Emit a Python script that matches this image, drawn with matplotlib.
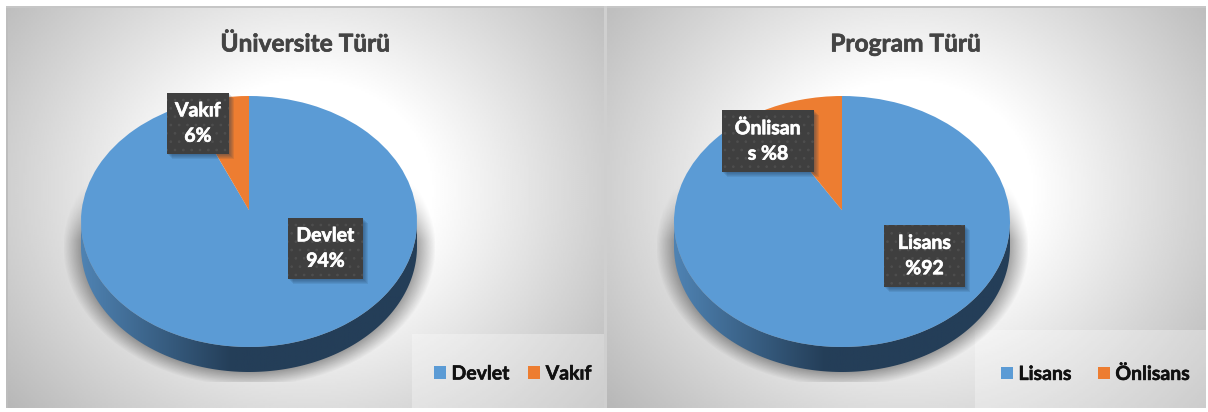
import numpy as np
import matplotlib
matplotlib.use('Agg')
import matplotlib.pyplot as plt
import matplotlib.patheffects as pe
from matplotlib.patches import Rectangle, PathPatch
from matplotlib.path import Path

plt.rcParams['font.family'] = ['Lato', 'DejaVu Sans']
plt.rcParams['hatch.linewidth'] = 0.7

titles = ['Üniversite Türü', 'Program Türü']
categories_1 = ['Devlet', 'Vakıf']
values_1 = [94, 6]
labels_1 = ['Devlet\n94%', 'Vakıf\n6%']
categories_2 = ['Lisans', 'Önlisans']
values_2 = [92, 8]
labels_2 = ['Lisans\n%92', 'Önlisan\ns %8']
colors = ['#5b9bd5', '#ed7d31']

W, H = 1208, 412
fig = plt.figure(figsize=(W / 100, H / 100), dpi=100, facecolor='white')
bg = fig.add_axes([0, 0, 1, 1])
bg.set_xlim(0, W)
bg.set_ylim(H, 0)
bg.axis('off')


def panel_bg(x0, x1, y0, y1):
    # radial grey gradient behind each chart
    cx = (x0 + x1) / 2
    xx, yy = np.meshgrid(np.linspace(x0, x1, 300), np.linspace(y0, y1, 200))
    r = np.hypot((xx - cx) / 298, (yy - 190) / 260)
    g = 1.0 - 0.27 * np.clip(r - 0.42, 0, None) / 0.85
    bg.imshow(g, extent=(x0, x1, y1, y0), cmap='gray', vmin=0, vmax=1,
              aspect='auto', zorder=0)


def draw_chart(px0, px1, cx, title, cats, vals, legend_box, legend_x, col_gap):
    rx, top, bot = 168, 96, 347
    cy = (top + bot) / 2
    ry = (bot - top) / 2
    depth = 25
    panel_bg(px0, px1, 8, 408)
    bg.add_patch(Rectangle((legend_box[0], legend_box[1]), legend_box[2] - legend_box[0],
                           legend_box[3] - legend_box[1], fc='white', alpha=0.3, ec='none', zorder=1))

    # soft shadow under the pie
    xx, yy = np.meshgrid(np.arange(cx - 185, cx + 186), np.arange(180, 382))
    d = np.hypot((xx - cx) / rx, (yy - cy - depth) / ry)
    shade = np.zeros(xx.shape + (4,))
    shade[..., 3] = 0.34 * np.clip((1.11 - d) / 0.11, 0, 1) * np.clip((yy - 180) / 60, 0, 1)
    bg.imshow(shade, extent=(cx - 185, cx + 186, 382, 180), aspect='auto', zorder=2)

    # side wall with a left-to-right gradient
    t = np.linspace(0, np.pi, 200)
    ex, ey = cx + rx * np.cos(t), cy + ry * np.sin(t)
    verts = np.vstack([np.column_stack([ex, ey + depth]), np.column_stack([ex[::-1], ey[::-1]])])
    wall = PathPatch(Path(np.vstack([verts, verts[0]]), closed=True), fc='none', ec='none',
                     transform=bg.transData)
    bg.add_patch(wall)
    c_left = np.array([0x4f, 0x83, 0xb3]) / 255
    c_dark = np.array([0x24, 0x3e, 0x58]) / 255
    f = np.clip(np.linspace(0, 1, 340) / 0.45, 0, 1)[None, :, None]
    grad = c_left * (1 - f) + c_dark * f
    im = bg.imshow(grad, extent=(cx - rx, cx + rx, cy + ry + depth, cy), aspect='auto', zorder=3)
    im.set_clip_path(wall)

    bg.text((px0 + px1) / 2 - 1, 44, title, ha='center', va='center', fontsize=17.6,
            fontweight='bold', color='#444444', zorder=5,
            path_effects=[pe.withStroke(linewidth=0.5, foreground='#444444')])

    # pie top, drawn through ax.pie then squashed by its axes box
    ax = fig.add_axes([(cx - rx) / W, 1 - bot / H, 2 * rx / W, (bot - top) / H])
    wedges, _ = ax.pie(vals, colors=colors, startangle=90, counterclock=False, radius=1,
                       wedgeprops={'linewidth': 0})
    ax.set_aspect('auto')
    ax.set_xlim(-1, 1)
    ax.set_ylim(-1, 1)
    ax.patch.set_alpha(0)
    # perspective: apex sits above the ellipse centre
    for w in wedges:
        v = w.get_path().vertices
        v[np.hypot(v[:, 0], v[:, 1]) < 1e-6, 1] = 0.09
        w.set_clip_on(False)

    # legend
    leg = fig.legend(wedges, cats, loc='center left', ncol=2, frameon=False,
                     bbox_to_anchor=(legend_x / W, 1 - 374 / H),
                     prop={'weight': 'bold', 'size': 14}, handlelength=0.62, handleheight=0.62,
                     handletextpad=0.28, columnspacing=col_gap, labelcolor='#111111', borderpad=0,
                     borderaxespad=0)
    for txt in leg.get_texts():
        txt.set_path_effects([pe.withStroke(linewidth=0.4, foreground='#111111')])


ov = fig.add_axes([0, 0, 1, 1], zorder=10)
ov.set_xlim(0, W)
ov.set_ylim(H, 0)
ov.axis('off')
ov.patch.set_alpha(0)


def draw_labels(labels, boxes):
    for lab, (x0, y0, x1, y1) in zip(labels, boxes):
        for k in range(5, 0, -1):
            ov.add_patch(Rectangle((x0 + k, y0 + k), x1 - x0, y1 - y0, fc='#1f3a55', alpha=0.11,
                                   ec='none', zorder=1))
        ov.add_patch(Rectangle((x0, y0), x1 - x0, y1 - y0, fc='#3f3f3f', ec='#4e4e4e', hatch='..',
                               lw=0, zorder=2))
        ov.text((x0 + x1) / 2, (y0 + y1) / 2, lab, ha='center', va='center', fontsize=14,
                fontweight='bold', color='white', linespacing=1.6, zorder=3,
                path_effects=[pe.withStroke(linewidth=0.5, foreground='white')])


draw_chart(8, 604, 249, titles[0], categories_1, values_1, (412, 334, 604, 408), 434, 0.95)
draw_chart(607, 1206, 842, titles[1], categories_2, values_2, (975, 330, 1206, 408), 1001, 1.35)
# thin frame lines round the panels
bg.add_patch(Rectangle((6, 6), 2, 402, fc='#bdbdbd', ec='none', zorder=6))
bg.add_patch(Rectangle((6, 6), 1200, 1.5, fc='#c6c6c6', ec='none', zorder=6))
bg.add_patch(Rectangle((604, 6), 3, 402, fc='#cfcfcf', ec='none', zorder=6))
bg.set_xlim(0, W)
bg.set_ylim(H, 0)

draw_labels(labels_1, [(288, 218, 363, 279), (167, 93, 229, 154)])
draw_labels(labels_2, [(884, 225, 965, 287), (722, 110, 814, 172)])

fig.savefig('out.png', dpi=100)
